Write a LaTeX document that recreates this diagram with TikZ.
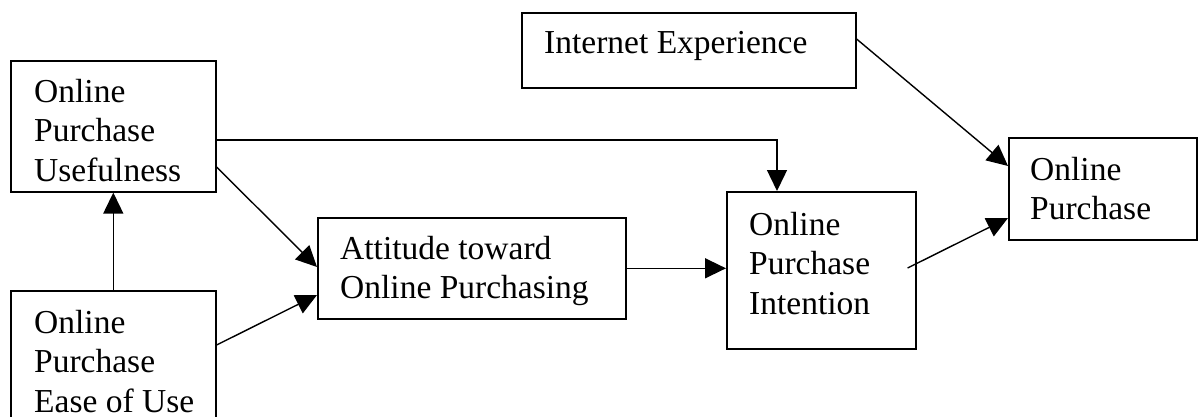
\documentclass[tikz,border=0pt]{standalone}
\usepackage{fontspec}
\setmainfont{Liberation Serif}
\usetikzlibrary{arrows.meta,calc}
\begin{document}
\begin{tikzpicture}[x=1pt,y=-1pt,
  box/.style={draw,line width=1.6pt,rectangle,inner sep=0pt,anchor=north west},
  txt/.style={inner sep=0pt,anchor=north west,align=left,font=\fontsize{33.5}{39.5}\selectfont},
  arr/.style={line width=1.4pt,-{Triangle[length=21pt,width=20pt]}}]
\useasboundingbox (0,0) rectangle (1199,416);
% boxes
\node[box,minimum width=334pt,minimum height=75pt] (exp) at (521,12) {};
\node[box,minimum width=205pt,minimum height=131pt] (use) at (10,60) {};
\node[box,minimum width=205pt,minimum height=140pt] (ease) at (10,290) {};
\node[box,minimum width=308pt,minimum height=101pt] (att) at (317,217) {};
\node[box,minimum width=189pt,minimum height=157pt] (int) at (726,191) {};
\node[box,minimum width=188pt,minimum height=102pt] (pur) at (1008,137) {};
% texts
\node[txt] (expT) at (544,31) {Internet Experience};
\node[txt] (useT) at (34,79) {Online\\Purchase\\Usefulness};
\node[txt] (easeT) at (34,310) {Online\\Purchase\\Ease of Use};
\node[txt] (attT) at (340,236) {Attitude toward\\Online Purchasing};
\node[txt] (intT) at (749,212) {Online\\Purchase\\Intention};
\node[txt] (purT) at (1030,157) {Online\\Purchase};
% connectors
\draw[arr] (ease.north) -- (use.south);
\draw[arr] ($(use.north east)+(0,107)$) -- ($(att.north west)+(0,50)$);
\draw[arr] ($(ease.north east)+(0,55)$) -- ($(att.north west)+(0,78)$);
\draw[arr] ($(use.north east)+(0,80)$) -| ($(int.north west)+(51,0)$);
\draw[arr] (att.east) -- (att.east -| int.west);
\draw[arr] ($(int.north east)+(-9,77)$) -- ($(pur.north west)+(0,81)$);
\draw[arr] ($(exp.north east)+(0,27)$) -- ($(pur.north west)+(0,29)$);
\end{tikzpicture}
\end{document}
